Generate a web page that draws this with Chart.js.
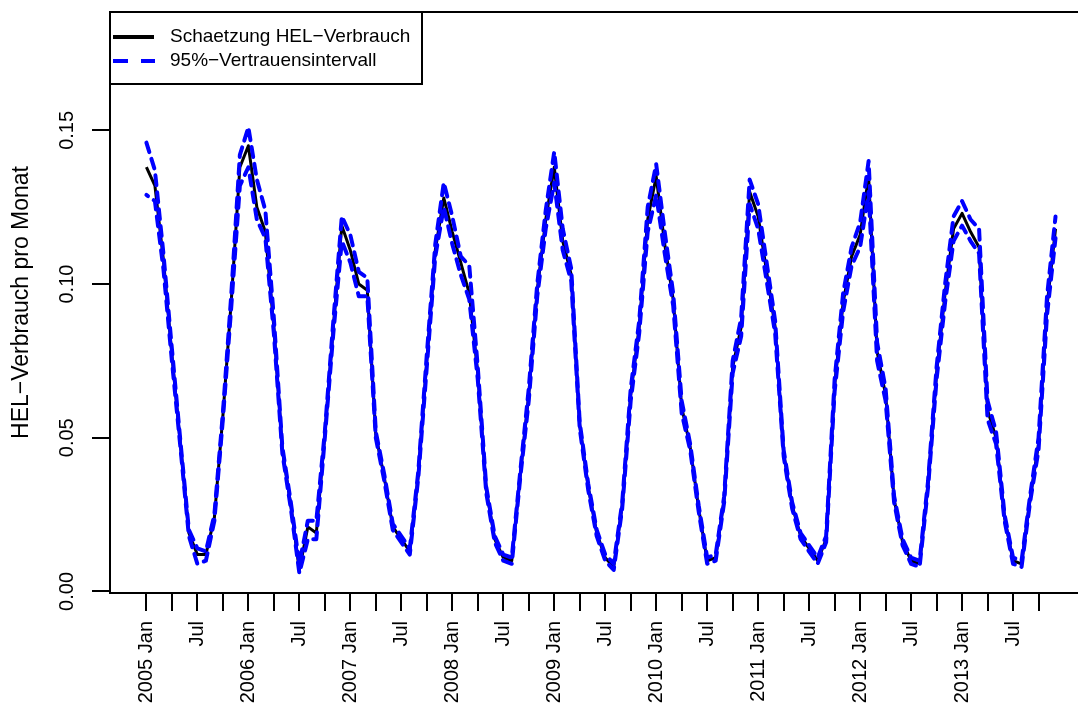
<!DOCTYPE html>
<html>
<head>
<meta charset="utf-8">
<script src="https://cdn.jsdelivr.net/npm/chart.js@4.4.1/dist/chart.umd.min.js"></script>
<style>
  html, body { margin: 0; padding: 0; background: #fff; }
  canvas { display: block; }
</style>
</head>
<body>
<canvas id="chart" width="1078" height="720"></canvas>
<script>
// monthly values, Jan 2005 .. Dec 2013
var startYear = 2005;

var estimate = [
  0.138, 0.132, 0.108, 0.077, 0.048, 0.019, 0.012, 0.012, 0.024, 0.057, 0.095, 0.138,
  0.145, 0.125, 0.117, 0.086, 0.046, 0.028, 0.007, 0.021, 0.019, 0.051, 0.086, 0.119,
  0.111, 0.100, 0.098, 0.051, 0.037, 0.021, 0.017, 0.013, 0.038, 0.075, 0.111, 0.128,
  0.117, 0.107, 0.097, 0.071, 0.033, 0.017, 0.011, 0.010, 0.038, 0.064, 0.098, 0.121,
  0.138, 0.114, 0.103, 0.054, 0.034, 0.019, 0.011, 0.008, 0.028, 0.064, 0.086, 0.121,
  0.135, 0.113, 0.095, 0.060, 0.047, 0.027, 0.010, 0.011, 0.030, 0.073, 0.086, 0.130,
  0.122, 0.104, 0.086, 0.045, 0.028, 0.018, 0.014, 0.010, 0.017, 0.067, 0.094, 0.109,
  0.116, 0.135, 0.078, 0.064, 0.030, 0.016, 0.010, 0.009, 0.035, 0.071, 0.097, 0.118,
  0.123, 0.117, 0.112, 0.059, 0.050, 0.024, 0.010, 0.009, 0.030, 0.048, 0.093, 0.118
];

var upper = [
  0.146, 0.137, 0.110, 0.079, 0.049, 0.020, 0.014, 0.013, 0.025, 0.058, 0.097, 0.142,
  0.151, 0.134, 0.124, 0.089, 0.047, 0.029, 0.009, 0.023, 0.023, 0.052, 0.088, 0.122,
  0.116, 0.104, 0.102, 0.052, 0.038, 0.022, 0.018, 0.014, 0.039, 0.077, 0.113, 0.133,
  0.122, 0.109, 0.106, 0.073, 0.034, 0.018, 0.012, 0.011, 0.039, 0.066, 0.100, 0.124,
  0.143, 0.118, 0.105, 0.055, 0.035, 0.020, 0.012, 0.009, 0.029, 0.066, 0.088, 0.125,
  0.139, 0.117, 0.097, 0.062, 0.048, 0.028, 0.011, 0.012, 0.031, 0.075, 0.089, 0.134,
  0.126, 0.107, 0.088, 0.046, 0.029, 0.019, 0.015, 0.011, 0.018, 0.069, 0.097, 0.112,
  0.120, 0.140, 0.081, 0.066, 0.031, 0.017, 0.011, 0.010, 0.036, 0.073, 0.100, 0.122,
  0.127, 0.121, 0.118, 0.062, 0.052, 0.025, 0.011, 0.010, 0.031, 0.050, 0.096, 0.122
];

var lower = [
  0.129, 0.127, 0.105, 0.075, 0.047, 0.018, 0.009, 0.010, 0.023, 0.056, 0.093, 0.132,
  0.138, 0.121, 0.115, 0.084, 0.045, 0.027, 0.006, 0.017, 0.017, 0.050, 0.084, 0.114,
  0.107, 0.096, 0.096, 0.050, 0.036, 0.020, 0.016, 0.012, 0.037, 0.073, 0.109, 0.125,
  0.113, 0.103, 0.095, 0.069, 0.032, 0.016, 0.010, 0.009, 0.037, 0.062, 0.096, 0.118,
  0.133, 0.111, 0.101, 0.053, 0.033, 0.018, 0.010, 0.007, 0.027, 0.062, 0.084, 0.117,
  0.129, 0.110, 0.093, 0.058, 0.046, 0.026, 0.009, 0.010, 0.029, 0.071, 0.083, 0.126,
  0.118, 0.101, 0.084, 0.044, 0.027, 0.017, 0.013, 0.009, 0.016, 0.065, 0.091, 0.106,
  0.112, 0.130, 0.075, 0.062, 0.029, 0.015, 0.009, 0.008, 0.034, 0.069, 0.094, 0.114,
  0.119, 0.114, 0.110, 0.056, 0.048, 0.023, 0.009, 0.008, 0.029, 0.046, 0.090, 0.115
];

// quarterly ticks (Jan, Apr, Jul, Oct)
var xTickLabels = [
  '2005 Jan', '', 'Jul', '', '2006 Jan', '', 'Jul', '', '2007 Jan', '', 'Jul', '',
  '2008 Jan', '', 'Jul', '', '2009 Jan', '', 'Jul', '', '2010 Jan', '', 'Jul', '',
  '2011 Jan', '', 'Jul', '', '2012 Jan', '', 'Jul', '', '2013 Jan', '', 'Jul', ''
];
var yTickValues = [0, 0.05, 0.10, 0.15];
var yTickLabels = ['0.00', '0.05', '0.10', '0.15'];

var seriesNames = ['Schaetzung HEL−Verbrauch', '95%−Vertrauensintervall'];
var yTitle = 'HEL−Verbrauch pro Monat';

var FONT = "'Liberation Sans', Arial, Helvetica, sans-serif";

function toPoints(arr) {
  return arr.map(function (v, i) {
    return { x: startYear + i / 12, y: v };
  });
}

// box round the plot and the legend, drawn like R does
var framePlugin = {
  id: 'frame',
  afterDraw: function (chart) {
    var ctx = chart.ctx;
    var a = chart.chartArea;
    ctx.save();
    ctx.strokeStyle = '#000';
    ctx.lineWidth = 2;
    ctx.strokeRect(a.left, a.top, a.right - a.left + 30, a.bottom - a.top);

    // legend
    var lx = a.left, ly = a.top, lw = 312, lh = 72;
    ctx.fillStyle = '#fff';
    ctx.fillRect(lx, ly, lw, lh);
    ctx.strokeRect(lx, ly, lw, lh);

    var rows = [ly + 25, ly + 49];
    ctx.lineWidth = 4;
    ctx.lineCap = 'butt';
    ctx.strokeStyle = '#000';
    ctx.setLineDash([]);
    ctx.beginPath();
    ctx.moveTo(lx + 3, rows[0]);
    ctx.lineTo(lx + 44, rows[0]);
    ctx.stroke();

    ctx.strokeStyle = '#0000ff';
    ctx.setLineDash([15, 13]);
    ctx.beginPath();
    ctx.moveTo(lx + 3, rows[1]);
    ctx.lineTo(lx + 45, rows[1]);
    ctx.stroke();
    ctx.setLineDash([]);

    ctx.fillStyle = '#000';
    ctx.font = '19px ' + FONT;
    ctx.textBaseline = 'middle';
    ctx.textAlign = 'left';
    ctx.fillText(seriesNames[0], lx + 60, rows[0]);
    ctx.fillText(seriesNames[1], lx + 60, rows[1]);
    ctx.restore();
  }
};

var config = {
  type: 'line',
  data: {
    datasets: [{
      label: seriesNames[0],
      data: toPoints(estimate),
      borderColor: '#000000',
      borderWidth: 3,
      order: 3
    }, {
      label: seriesNames[1],
      data: toPoints(upper),
      borderColor: '#0000ff',
      borderWidth: 4,
      borderDash: [10, 7],
      borderCapStyle: 'round',
      order: 1
    }, {
      label: seriesNames[1] + ' (unten)',
      data: toPoints(lower),
      borderColor: '#0000ff',
      borderWidth: 4,
      borderDash: [10, 7],
      borderDashOffset: 8,
      borderCapStyle: 'round',
      order: 2
    }]
  },
  options: {
    responsive: false,
    animation: false,
    devicePixelRatio: 1,
    elements: {
      point: { radius: 0 },
      line: { tension: 0, fill: false, borderJoinStyle: 'round' }
    },
    layout: { padding: { top: 12, left: 0, right: 0, bottom: 0 } },
    plugins: {
      legend: { display: false },
      tooltip: { enabled: false }
    },
    scales: {
      x: {
        type: 'linear',
        min: 2004.643,
        max: 2014.137,
        afterBuildTicks: function (scale) {
          scale.ticks = xTickLabels.map(function (l, k) {
            return { value: startYear + k * 0.25 };
          });
        },
        afterFit: function (scale) {
          scale.height = 127;
          scale.paddingLeft = 0;
          scale.paddingRight = 0;
        },
        border: { display: false },
        grid: {
          drawOnChartArea: false,
          drawTicks: true,
          tickLength: 18,
          color: '#000',
          lineWidth: 2
        },
        ticks: {
          autoSkip: false,
          minRotation: 90,
          maxRotation: 90,
          padding: 10,
          color: '#000',
          font: { family: FONT, size: 20 },
          callback: function (v, i) { return xTickLabels[i]; }
        }
      },
      y: {
        type: 'linear',
        min: -0.0005,
        max: 0.1885,
        afterBuildTicks: function (scale) {
          scale.ticks = yTickValues.map(function (v) { return { value: v }; });
        },
        afterFit: function (scale) {
          scale.width = 110;
          scale.paddingTop = 0;
          scale.paddingBottom = 0;
        },
        border: { display: false },
        grid: {
          drawOnChartArea: false,
          drawTicks: true,
          tickLength: 18,
          color: '#000',
          lineWidth: 2
        },
        ticks: {
          autoSkip: false,
          minRotation: 90,
          maxRotation: 90,
          crossAlign: 'center',
          padding: 5,
          color: '#000',
          font: { family: FONT, size: 20 },
          callback: function (v, i) { return yTickLabels[i]; }
        },
        title: {
          display: true,
          text: yTitle,
          color: '#000',
          font: { family: FONT, size: 23 },
          padding: { top: 8, bottom: 0 }
        }
      }
    }
  },
  plugins: [framePlugin]
};

var ctx = document.getElementById('chart').getContext('2d');
window.myChart = new Chart(ctx, config);
</script>
</body>
</html>
